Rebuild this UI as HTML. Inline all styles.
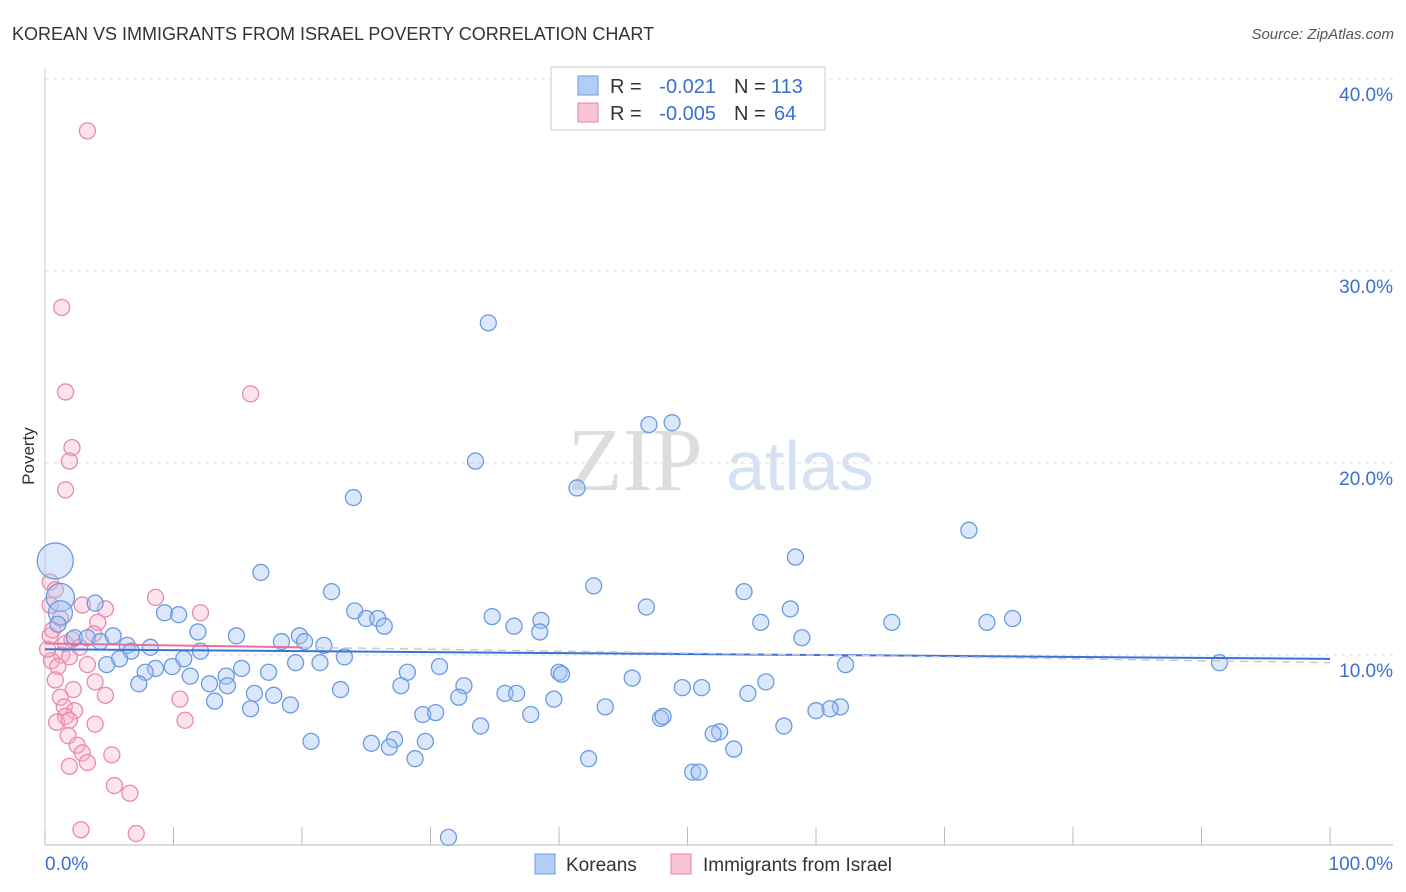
<!DOCTYPE html>
<html><head><meta charset="utf-8"><style>
body{margin:0;background:#fff;font-family:"Liberation Sans",sans-serif;}
svg{display:block}
</style></head><body>
<svg id="chart" width="1406" height="892">
<text x="12" y="40" font-size="18" fill="#333">KOREAN VS IMMIGRANTS FROM ISRAEL POVERTY CORRELATION CHART</text>
<text x="1394" y="39" font-size="15" fill="#555" text-anchor="end" font-style="italic">Source: ZipAtlas.com</text>
<text x="34" y="456" font-size="17" fill="#333" transform="rotate(-90 34 456)" text-anchor="middle">Poverty</text>
<g><text x="635" y="490" font-size="90" fill="#ddd" font-family="Liberation Serif,serif" text-anchor="middle">ZIP</text><text x="800" y="490" font-size="70" fill="#d6e2f3" text-anchor="middle">atlas</text></g>
<g id="grid"></g><g id="pts"></g><g id="lines"></g>
<g>
<rect x="551" y="67" width="274" height="63" fill="#fff" stroke="#ccc"/>
<rect x="578" y="76" width="20" height="19" fill="#b4cdf4" stroke="#6a9be0"/>
<rect x="578" y="103" width="20" height="19" fill="#f8c4d6" stroke="#e880a8"/>
<g font-size="20" fill="#333">
<text x="610" y="93">R =</text><text x="716" y="93" fill="#3a6fd0" text-anchor="end">-0.021</text><text x="734" y="93">N =</text><text x="771" y="93" fill="#3a6fd0">113</text>
<text x="610" y="120">R =</text><text x="716" y="120" fill="#3a6fd0" text-anchor="end">-0.005</text><text x="734" y="120">N =</text><text x="774" y="120" fill="#3a6fd0">64</text>
</g>
</g>
<g>
<rect x="535" y="854" width="20" height="20" fill="#b4cdf4" stroke="#6a9be0"/><text x="566" y="871" font-size="19" fill="#333">Koreans</text>
<rect x="671" y="854" width="20" height="20" fill="#f8c4d6" stroke="#e880a8"/><text x="703" y="871" font-size="19" fill="#333">Immigrants from Israel</text>
</g>
</svg>
<script>
const yTicks=[10,20,30,40];
const yTickLabels=["10.0%","20.0%","30.0%","40.0%"];
const xTicks=[0,10,20,30,40,50,60,70,80,90,100];
const koreanX=[34.5,48.8,47.0,33.5,41.4,24.0,71.9,58.4,16.8,42.7,22.3,54.4,3.9,9.3,10.4,24.1,46.8,58.0,34.8,25.0,25.9,38.6,26.4,36.5,55.7,65.9,73.3,75.3,11.9,14.9,19.8,38.5,5.3,58.9,18.4,20.2,6.4,2.3,3.3,4.3,8.2,6.7,12.1,21.7,23.3,10.8,5.8,4.8,19.5,21.4,30.7,9.9,8.6,15.3,7.8,17.4,28.2,40.0,40.2,62.3,91.4,14.1,11.3,7.3,12.8,45.7,27.7,32.6,56.1,49.6,51.1,14.2,23.0,35.8,36.7,16.3,17.8,54.7,32.2,39.6,13.2,19.1,43.6,16.0,61.9,61.1,60.0,37.8,29.4,30.4,47.9,48.1,33.9,57.5,52.5,52.0,20.7,25.4,27.2,29.6,26.8,53.6,28.8,42.3,50.4,50.9,31.4,0.8,1.2,1.2,1.0];
const koreanY=[27.3,22.1,22.0,20.1,18.7,18.2,16.5,15.1,14.3,13.6,13.3,13.3,12.7,12.2,12.1,12.3,12.5,12.4,12.0,11.9,11.9,11.8,11.5,11.5,11.7,11.7,11.7,11.9,11.2,11.0,11.0,11.2,11.0,10.9,10.7,10.7,10.5,10.9,10.9,10.7,10.4,10.2,10.2,10.5,9.9,9.8,9.8,9.5,9.6,9.6,9.4,9.4,9.3,9.3,9.1,9.1,9.1,9.1,9.0,9.5,9.6,8.9,8.9,8.5,8.5,8.8,8.4,8.4,8.6,8.3,8.3,8.4,8.2,8.0,8.0,8.0,7.9,8.0,7.8,7.7,7.6,7.4,7.3,7.2,7.3,7.2,7.1,6.9,6.9,7.0,6.7,6.8,6.3,6.3,6.0,5.9,5.5,5.4,5.6,5.5,5.2,5.1,4.6,4.6,3.9,3.9,0.5,14.9,13.0,12.2,11.6];
const koreanSize=koreanX.map((v,i)=>i==koreanX.length-4?18:i==koreanX.length-3?14:i==koreanX.length-2?12:8);
const israelX=[3.3,1.3,1.6,16.0,2.1,1.9,1.6,8.6,12.1,4.7,2.9,0.4,0.8,1.2,4.1,0.4,1.6,2.1,2.7,3.8,1.3,0.5,1.9,1.0,3.3,0.8,3.9,2.2,4.7,10.5,1.2,1.5,2.3,1.6,0.9,1.9,3.9,10.9,1.8,2.5,2.9,5.2,3.3,1.9,5.4,6.6,2.8,7.1,0.4,0.6,0.2];
const israelY=[37.3,28.1,23.7,23.6,20.8,20.1,18.6,13.0,12.2,12.4,12.6,13.8,13.4,11.9,11.7,11.0,10.6,10.8,10.4,11.1,10.0,9.7,9.9,9.4,9.5,8.7,8.6,8.2,7.9,7.7,7.8,7.3,7.1,6.8,6.5,6.6,6.4,6.6,5.8,5.3,4.9,4.8,4.4,4.2,3.2,2.8,0.9,0.7,12.6,11.3,10.3];
const koreanTrend=[10.3,9.8];
const israelTrend=[10.6,10.4,20];
const X=v=>45+v*12.85, Y=v=>847-v*19.2;
const ns="http://www.w3.org/2000/svg";
function mk(t,a,p){const e=document.createElementNS(ns,t);for(const k in a)e.setAttribute(k,a[k]);p.appendChild(e);return e;}
const grid=document.getElementById('grid');
yTicks.forEach((t,i)=>{
 const l=mk('line',{x1:45,x2:1393,y1:Y(t),y2:Y(t),stroke:'#ddd','stroke-dasharray':'4,4'},grid);
 
 
 const tx=mk('text',{x:1393,y:Y(t)+22,'font-size':19,fill:'#3a6fd0','text-anchor':'end'},grid);
 tx.textContent=yTickLabels[i];
 
 
});
const ax=mk('line',{x1:45,x2:1393,y1:845,y2:845,stroke:'#bbb'},grid);


const ay=mk('line',{x1:45,x2:45,y1:68,y2:845,stroke:'#ccc'},grid);


xTicks.forEach(t=>{const l=mk('line',{x1:X(t),x2:X(t),y1:827,y2:845,stroke:'#bbb'},grid);
 
 });
[[0,'0.0%','start',45],[100,'100.0%','end',1393]].forEach(d=>{const t=mk('text',{x:d[3],y:870,'font-size':19,fill:'#3a6fd0','text-anchor':d[2]},grid);t.textContent=d[1];
 
 });
const pts=document.getElementById('pts');
israelX.forEach((v,i)=>{const c=mk('circle',{cx:X(v),cy:Y(israelY[i]),r:8,fill:'rgba(246,176,200,0.35)',stroke:'#e88aae','stroke-width':1.3},pts);
 
 });
koreanX.forEach((v,i)=>{const c=mk('circle',{cx:X(v),cy:Y(koreanY[i]),r:koreanSize[i],fill:'rgba(164,196,242,0.4)',stroke:'#6a9be0','stroke-width':1.3},pts);
 
 });
const lines=document.getElementById('lines');
const kl=mk('line',{x1:X(0),x2:X(100),y1:Y(koreanTrend[0]),y2:Y(koreanTrend[1]),stroke:'#3a72d8','stroke-width':2},lines);


const il=mk('line',{x1:X(0),x2:X(israelTrend[2]),y1:Y(israelTrend[0]),y2:Y(israelTrend[1]),stroke:'#e8709a','stroke-width':2},lines);


const id=mk('line',{x1:X(israelTrend[2]),x2:X(100),y1:Y(israelTrend[1]),y2:Y(9.6),stroke:'#c8c8d8','stroke-width':1.5,'stroke-dasharray':'8,6'},lines);


</script>
</body></html>
